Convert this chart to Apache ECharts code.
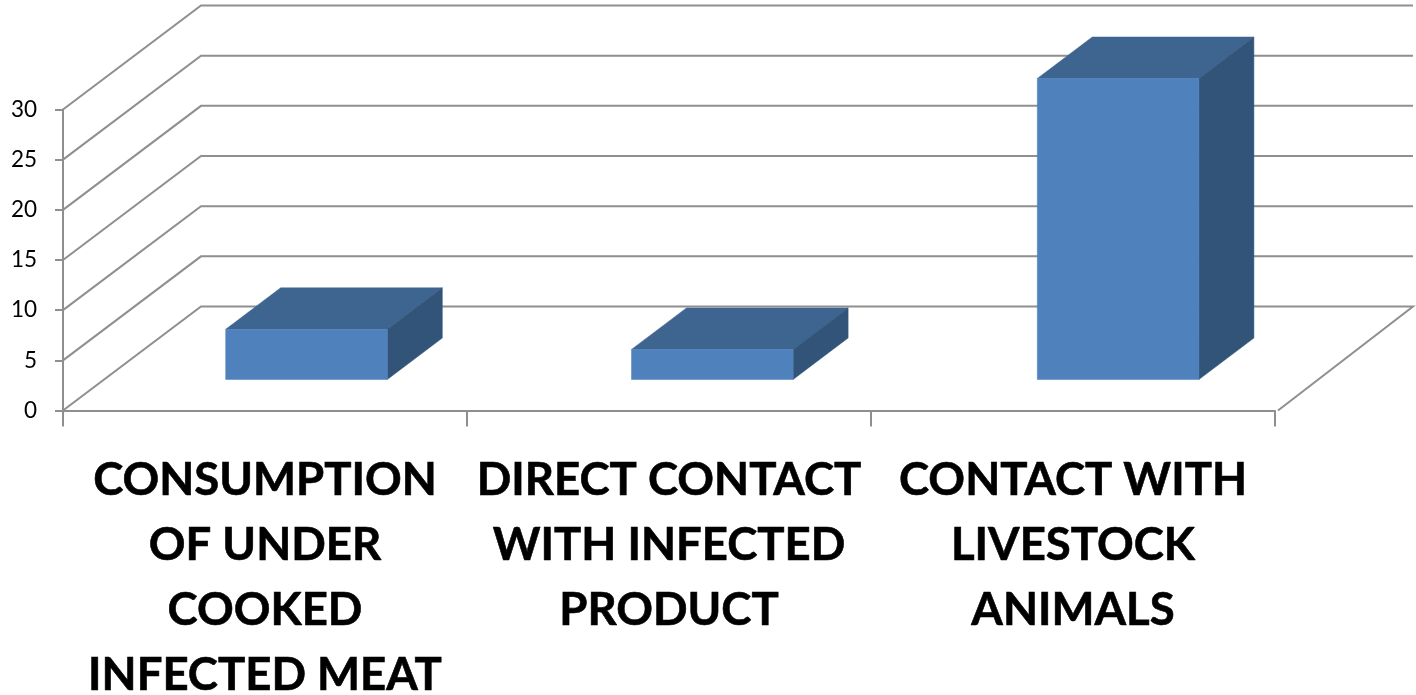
<!DOCTYPE html>
<html><head><meta charset="utf-8">
<style>html,body{margin:0;padding:0;background:#fff}#c{width:1416px;height:695px}</style>
<script src="https://cdn.jsdelivr.net/npm/echarts@6/dist/echarts.min.js"></script>
</head><body><div id="c"></div>
<script>
const categories = ['CONSUMPTION\nOF UNDER\nCOOKED\nINFECTED MEAT', 'DIRECT CONTACT\nWITH INFECTED\nPRODUCT', 'CONTACT WITH\nLIVESTOCK\nANIMALS'];
const values = [5, 3, 30];
const ticks = [0, 5, 10, 15, 20, 25, 30];
const LINE = '#8f8f8f';
const wallDepth = [138, -104];
const barShift = [41.5, -31];
const barDepth = [55, -41.5];
const barWidthRatio = 0.4;
const barSpread = 1.8;

function renderWall(params, api) {
  const p = api.coord([0, api.value(1)]);
  const band = api.size([1, 0])[0];
  const x0 = p[0] - band / 2;
  const x1 = x0 + band * categories.length + 3;
  const y = p[1];
  const pts = [[x0, y], [x0 + wallDepth[0], y + wallDepth[1]], [x1 + wallDepth[0] - 3, y + wallDepth[1]]];
  if (api.value(1) === 0) pts.push([x1, y]);
  return {
    type: 'polyline', silent: true,
    shape: { points: pts },
    style: { stroke: LINE, lineWidth: 2, fill: null }
  };
}

function renderBar(params, api) {
  const idx = api.value(0);
  const top = api.coord([idx, api.value(1)]);
  const base = api.coord([idx, 0]);
  const band = api.size([1, 0])[0];
  const w = band * barWidthRatio;
  const l = top[0] - w / 2 + barShift[0] + idx * barSpread;
  const r = l + w;
  const t = top[1] + barShift[1];
  const b = base[1] + barShift[1];
  const dx = barDepth[0], dy = barDepth[1];
  return {
    type: 'group',
    children: [
      { type: 'polygon', shape: { points: [[l, t], [r, t], [r + dx, t + dy], [l + dx, t + dy]] },
        style: { fill: '#3e6490', stroke: '#3e6490', lineWidth: 0.5 } },
      { type: 'polygon', shape: { points: [[r, t], [r + dx, t + dy], [r + dx, b + dy], [r, b]] },
        style: { fill: '#325479', stroke: '#325479', lineWidth: 0.5 } },
      { type: 'rect', shape: { x: l, y: t, width: w, height: b - t },
        style: { fill: '#4f81bd', stroke: '#4f81bd', lineWidth: 0.5 } }
    ]
  };
}

const chart = echarts.init(document.getElementById('c'), null, { renderer: 'canvas' });
chart.setOption({
  animation: false,
  backgroundColor: '#ffffff',
  grid: { left: 63, right: 141, top: 109.5, bottom: 284.5, containLabel: false, outerBoundsMode: 'none' },
  tooltip: { show: false },
  xAxis: {
    type: 'category',
    data: categories,
    boundaryGap: true,
    axisLine: { show: true, lineStyle: { color: LINE, width: 2 } },
    axisTick: { show: true, length: 16, alignWithLabel: false, lineStyle: { color: LINE, width: 2 } },
    axisLabel: { interval: 0, margin: 37, color: '#000', fontFamily: 'Lato', fontWeight: 'bold', fontSize: 45.5, lineHeight: 65, hideOverlap: false, textBorderColor: '#000', textBorderWidth: 0.6 },
    splitLine: { show: false }
  },
  yAxis: {
    type: 'value', min: 0, max: 30, interval: 5,
    axisLine: { show: true, lineStyle: { color: LINE, width: 2 } },
    axisTick: { show: true, length: 8, lineStyle: { color: LINE, width: 2 } },
    axisLabel: { margin: 26, color: '#000', fontFamily: 'Lato', fontSize: 22.5, padding: [2, 0, 0, 0] },
    splitLine: { show: false }
  },
  series: [
    { type: 'custom', renderItem: renderWall, data: ticks.map(t => [0, t]), z: 1, clip: false, silent: true },
    { type: 'custom', renderItem: renderBar, data: values.map((v, i) => [i, v]), z: 2, clip: false, silent: true }
  ]
});
</script></body></html>
